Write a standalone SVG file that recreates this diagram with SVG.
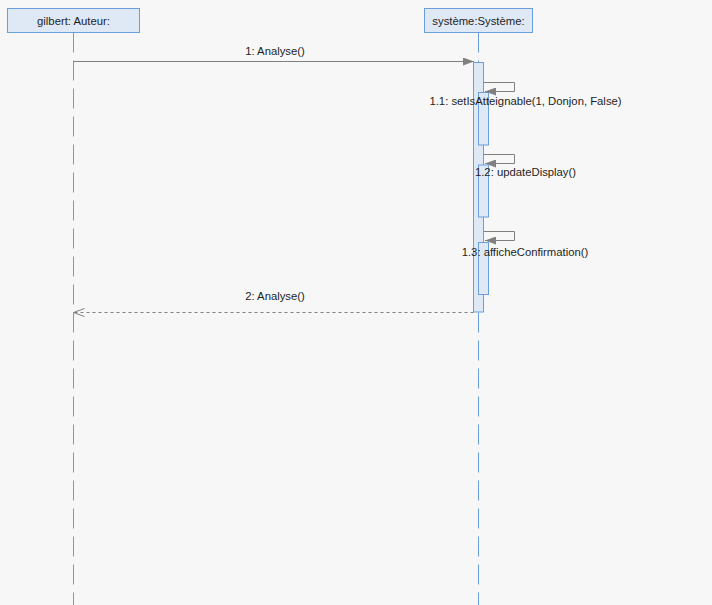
<svg xmlns="http://www.w3.org/2000/svg" width="712" height="605" viewBox="0 0 712 605">
<style>
text{font-family:"Liberation Sans",Arial,sans-serif;font-size:11.3px;fill:#1e1e1e;text-anchor:middle}
.head{fill:#dfe9f5;stroke:#6a9fdc;stroke-width:1}
.life{stroke:#6a9fdc;stroke-width:1;stroke-dasharray:20 8;fill:none}
.act{fill:#dfe9f5;stroke:#6a9fdc;stroke-width:1}
.msg{stroke:#808080;stroke-width:1;fill:none}
.ret{stroke:#808080;stroke-width:1;fill:none;stroke-dasharray:3 3}
</style>
<defs>
<marker id="filled" viewBox="0 0 11 8" refX="11" refY="4" markerWidth="11" markerHeight="8" markerUnits="userSpaceOnUse" orient="auto">
<path d="M0,0 L11,4 L0,8 Z" fill="#808080"/>
</marker>
<marker id="open" viewBox="0 0 12 10" refX="11" refY="5" markerWidth="12" markerHeight="10" markerUnits="userSpaceOnUse" orient="auto">
<path d="M0,1 L11,5 L0,9" fill="none" stroke="#808080" stroke-width="1"/>
</marker>
</defs>
<rect width="712" height="605" fill="#f7f7f7"/>
<g id="gilbert">
<line class="life" x1="73.5" y1="32.5" x2="73.5" y2="605"/>
<rect class="head" x="7.5" y="8.5" width="132" height="24"/>
<text x="73.5" y="24.5">gilbert: Auteur:</text>
</g>
<g id="systeme">
<line class="life" x1="478.5" y1="32.5" x2="478.5" y2="605"/>
<rect class="head" x="424.5" y="8.5" width="108" height="24"/>
<text x="478.5" y="24.5">système:Système:</text>
<rect class="act" x="473.5" y="62.5" width="10" height="249.5"/>
<rect class="act" x="478.5" y="92.5" width="10" height="52.5"/>
<rect class="act" x="478.5" y="165" width="10" height="52"/>
<rect class="act" x="478.5" y="242.5" width="10" height="52"/>
</g>
<g id="connectors">
<line class="msg" x1="73.5" y1="61.5" x2="474" y2="61.5" marker-end="url(#filled)"/>
<text x="275" y="55">1: Analyse()</text>
<polyline class="msg" points="483.5,82.5 514.5,82.5 514.5,91.5 485,91.5" marker-end="url(#filled)"/>
<text x="525.5" y="105">1.1: setIsAtteignable(1, Donjon, False)</text>
<polyline class="msg" points="483.5,154.5 514.5,154.5 514.5,163.5 485,163.5" marker-end="url(#filled)"/>
<text x="525.5" y="176">1.2: updateDisplay()</text>
<polyline class="msg" points="483.5,231.5 514.5,231.5 514.5,240.5 485,240.5" marker-end="url(#filled)"/>
<text x="525" y="255.5">1.3: afficheConfirmation()</text>
<line class="ret" x1="473.5" y1="312.5" x2="73.5" y2="312.5" marker-end="url(#open)"/>
<text x="275" y="300">2: Analyse()</text>
</g>
</svg>
